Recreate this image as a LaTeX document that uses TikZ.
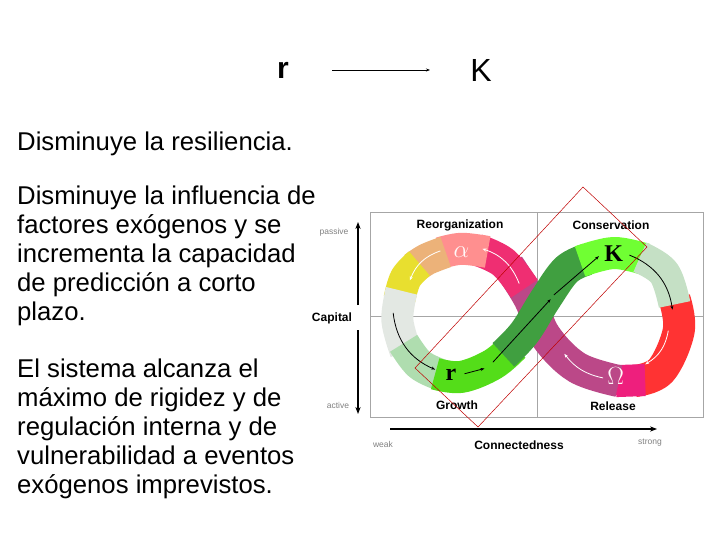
\documentclass[tikz,border=0pt]{standalone}
\usepackage{fontspec}
\setmainfont{Liberation Sans}
\newfontfamily\serifgr{Liberation Serif}
\usetikzlibrary{arrows.meta}
\begin{document}
\begin{tikzpicture}[x=1pt,y=-1pt,
  txt/.style={anchor=west,inner sep=0,font=\fontsize{25.7}{29}\selectfont},
  band/.style={line width=32pt,line cap=butt,line join=round},
  quad/.style={font=\bfseries\fontsize{12}{14}\selectfont,inner sep=0},
  small/.style={font=\fontsize{8.5}{10}\selectfont,text=gray,inner sep=0},
  greek/.style={font=\serifgr\bfseries\fontsize{24}{26}\selectfont,inner sep=0},
  flow/.style={-{Stealth[length=4pt]},line width=0.8pt}]
\useasboundingbox (0,0) rectangle (720,540);
% top
\node[font=\bfseries\fontsize{30}{32}\selectfont,inner sep=0] (r) at (283,70) {r};
\node[font=\fontsize{32}{34}\selectfont,inner sep=0] (K) at (481,70) {K};
\coordinate (a1) at (332,70); \coordinate (a2) at (430,70);
\draw[-{Stealth[length=4pt,width=3pt]},line width=0.8pt] (a1) -- (a2);
% left text
\node[txt] (t1) at (17,144) {Disminuye la resiliencia.};
\node[txt,align=left,anchor=north west] (t2) at (17,186) {Disminuye la influencia de\\factores exógenos y se\\incrementa la capacidad\\de predicción a corto\\plazo.};
\node[txt,align=left,anchor=north west] (t3) at (17,359) {El sistema alcanza el\\máximo de rigidez y de\\regulación interna y de\\vulnerabilidad a eventos\\exógenos imprevistos.};
% frame
\draw[gray!70,line width=1pt] (370,213) rectangle (703,417);
\draw[gray!70,line width=1pt] (537,213) -- (537,417) (370,316) -- (703,316);
\node[quad] (q1) at (460,225) {Reorganization};
\node[quad] (q2) at (611,225) {Conservation};
\node[quad] (q3) at (457,405) {Growth};
\node[quad] (q4) at (613,406) {Release};
\begin{scope}[scale around={1.05:(537,316)}]
\draw[band,color=red!85!pink!90!white] plot[smooth,tension=0.6] coordinates {(668,300) (672,330) (655,368) (630,378)};
\draw[band,color=magenta!75!red!90!white] plot[smooth,tension=0.6] coordinates {(640,377) (612,378)};
\draw[band,color=magenta!70!black!90!white] plot[smooth,tension=0.6] coordinates {(615,378) (575,365) (545,335) (530,300) (510,268)};
\draw[band,color=magenta!60!red!85!white] plot[smooth,tension=0.6] coordinates {(525,290) (505,265) (480,253)};
\draw[band,color=red!50!pink!70!white] plot[smooth,tension=0.6] coordinates {(490,255) (465,252) (445,256)};
\draw[band,color=orange!50!brown!60!white] plot[smooth,tension=0.6] coordinates {(450,255) (432,262) (420,270)};
\draw[band,color=yellow!75!olive!80!white] plot[smooth,tension=0.6] coordinates {(425,266) (412,280) (406,300)};
\draw[band,color=green!10!gray!20] plot[smooth,tension=0.6] coordinates {(408,292) (404,320) (412,350)};
\draw[band,color=green!40!gray!45] plot[smooth,tension=0.6] coordinates {(410,342) (425,362) (445,372)};
\draw[band,color=green!60!lime!85!black!90!white] plot[smooth,tension=0.6] coordinates {(440,371) (465,374) (495,362) (515,345)};
\draw[band,color=green!50!black!75!white] plot[smooth,tension=0.6] coordinates {(505,353) (525,332) (545,300) (565,272) (585,262)};
\draw[band,color=green!60!lime!80!white] plot[smooth,tension=0.6] coordinates {(578,264) (610,256) (640,262)};
\draw[band,color=green!30!gray!35] plot[smooth,tension=0.6] coordinates {(635,260) (658,275) (668,305)};
% flow arrows
\draw[flow,white] (600,375) to[bend left=20] (563,352);
\draw[flow,white] (520,285) to[bend right=25] (485,252) ;
\draw[flow,white] (445,254) to[bend right=25] (416,282);
\draw[flow] (400,313) to[bend right=30] (440,367);
\draw[flow] (468,371) -- (487,366);
\draw[flow] (495,360) -- (550,300);
\draw[flow] (553,296) -- (596,259);
\draw[flow] (625,258) to[bend left=30] (666,310);
\draw[flow,white] (662,330) to[bend left=25] (640,362);
\node[greek,text=white!90!pink] (al) at (465,255) {$\alpha$};
\node[greek] (kk) at (610,257) {K};
\node[greek] (rr) at (455,372) {r};
\node[greek,text=white!90!pink] (om) at (612,373) {$\Omega$};
\end{scope}
% axes
\coordinate (c1) at (358,305); \coordinate (c2) at (358,222);
\coordinate (c3) at (358,330); \coordinate (c4) at (358,414);
\draw[-{Stealth[length=7pt]},line width=1.6pt] (c1) -- (c2);
\draw[-{Stealth[length=7pt]},line width=1.6pt] (c3) -- (c4);
\node[font=\bfseries\fontsize{12}{14}\selectfont,inner sep=0] (cap) at (332,318) {Capital};
\node[small] (pa) at (334,232) {passive};
\node[small] (ac) at (338,405) {active};
\coordinate (h1) at (390,429); \coordinate (h2) at (657,429);
\draw[-{Stealth[length=7pt]},line width=1.6pt] (h1) -- (h2);
\node[quad] (con) at (519,445) {Connectedness};
\node[small] (we) at (383,444) {weak};
\node[small] (st) at (650,443) {strong};
% red rotated rectangle
\draw[red!75!black,line width=0.5pt] (583,187) -- (647,247) -- (478,427) -- (415,368) -- cycle;
\end{tikzpicture}
\end{document}
